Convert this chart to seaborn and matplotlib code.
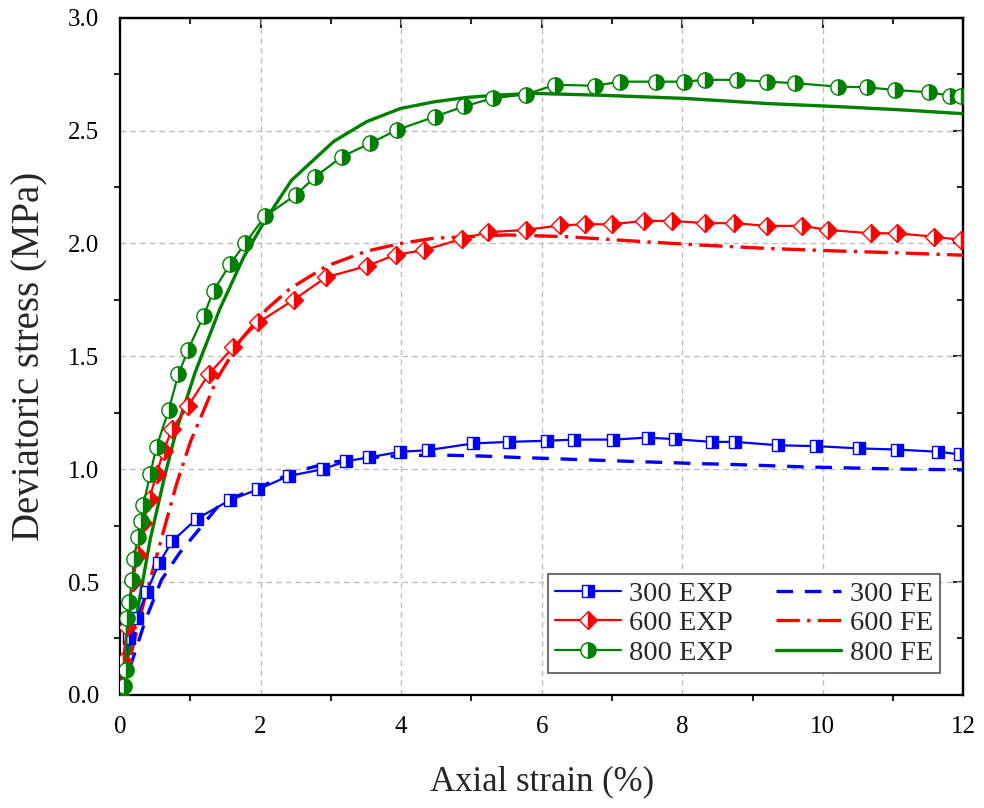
import numpy as np
import pandas as pd
import matplotlib
matplotlib.use("Agg")
import matplotlib.pyplot as plt
from matplotlib.ticker import MultipleLocator
import seaborn as sns

# ---- experimental curves (axial strain %, deviatoric stress MPa) ----
strain_300_exp = [0.0, 0.05, 0.13, 0.24, 0.38, 0.56, 0.74, 1.09, 1.57, 1.97, 2.40, 2.89,
                  3.21, 3.54, 3.98, 4.38, 5.02, 5.53, 6.08, 6.46, 7.02, 7.51, 7.89, 8.42,
                  8.75, 9.36, 9.91, 10.52, 11.06, 11.64, 11.95]
stress_300_exp = [0.0, 0.12, 0.25, 0.34, 0.456, 0.586, 0.68, 0.78, 0.864, 0.911, 0.97, 1.0,
                  1.035, 1.052, 1.077, 1.084, 1.114, 1.121, 1.126, 1.131, 1.131, 1.14, 1.133, 1.121,
                  1.121, 1.106, 1.102, 1.092, 1.087, 1.077, 1.066]

strain_600_exp = [0.0, 0.04, 0.10, 0.18, 0.25, 0.33, 0.42, 0.52, 0.62, 0.74, 0.97, 1.26,
                  1.61, 1.97, 2.47, 2.93, 3.51, 3.92, 4.32, 4.86, 5.24, 5.77, 6.26, 6.62,
                  7.00, 7.45, 7.85, 8.33, 8.73, 9.21, 9.70, 10.08, 10.68, 11.06, 11.58, 11.96]
stress_600_exp = [0.0, 0.15, 0.30, 0.50, 0.62, 0.76, 0.87, 0.98, 1.08, 1.18, 1.28, 1.42,
                  1.54, 1.65, 1.75, 1.85, 1.90, 1.95, 1.97, 2.02, 2.05, 2.06, 2.08, 2.085,
                  2.085, 2.10, 2.10, 2.09, 2.09, 2.078, 2.078, 2.06, 2.045, 2.045, 2.03, 2.016]

strain_800_exp = [0.0, 0.05, 0.08, 0.10, 0.13, 0.17, 0.20, 0.25, 0.30, 0.33, 0.43, 0.52,
                  0.69, 0.83, 0.97, 1.19, 1.33, 1.57, 1.78, 2.06, 2.50, 2.78, 3.16, 3.56,
                  3.94, 4.48, 4.89, 5.31, 5.77, 6.19, 6.76, 7.12, 7.62, 8.02, 8.33, 8.78,
                  9.21, 9.61, 10.22, 10.63, 11.03, 11.51, 11.81, 11.96]
stress_800_exp = [0.0, 0.04, 0.11, 0.34, 0.41, 0.51, 0.60, 0.70, 0.77, 0.84, 0.98, 1.10,
                  1.26, 1.42, 1.53, 1.68, 1.79, 1.91, 2.00, 2.12, 2.215, 2.296, 2.385, 2.444,
                  2.503, 2.562, 2.607, 2.644, 2.66, 2.703, 2.699, 2.717, 2.717, 2.717, 2.725, 2.725,
                  2.717, 2.71, 2.695, 2.692, 2.68, 2.67, 2.655, 2.655]

# ---- finite element predictions ----
strain_300_fe = [0.0, 0.14, 0.36, 0.59, 0.85, 1.09, 1.38, 1.66, 2.13, 2.50, 3.00, 3.50,
                 4.00, 4.62, 5.17, 5.65, 6.14, 6.75, 7.23, 7.72, 8.20, 8.69, 9.18, 9.73,
                 10.20, 10.70, 11.20, 12.00]
stress_300_fe = [0.0, 0.12, 0.33, 0.51, 0.63, 0.72, 0.83, 0.88, 0.94, 0.99, 1.03, 1.05,
                 1.06, 1.062, 1.058, 1.052, 1.047, 1.04, 1.035, 1.03, 1.025, 1.021, 1.016, 1.01,
                 1.007, 1.003, 1.0, 0.997]

strain_600_fe = [0.0, 0.14, 0.33, 0.57, 0.80, 1.00, 1.38, 1.71, 2.09, 2.42, 2.94, 3.51,
                 3.99, 4.46, 4.93, 5.50, 6.36, 7.45, 8.26, 9.21, 10.17, 11.12, 12.00]
stress_600_fe = [0.0, 0.16, 0.40, 0.67, 0.93, 1.12, 1.40, 1.57, 1.71, 1.80, 1.90, 1.966,
                 2.0, 2.023, 2.03, 2.038, 2.03, 2.008, 1.993, 1.978, 1.967, 1.958, 1.948]

strain_800_fe = [0.0, 0.10, 0.24, 0.43, 0.64, 0.80, 1.07, 1.42, 1.76, 2.06, 2.44, 3.04,
                 3.51, 3.99, 4.46, 4.93, 5.41, 5.88, 6.83, 8.02, 9.21, 10.17, 11.12, 12.00]
stress_800_fe = [0.0, 0.15, 0.36, 0.69, 0.975, 1.17, 1.43, 1.71, 1.94, 2.10, 2.28, 2.452,
                 2.54, 2.598, 2.627, 2.647, 2.658, 2.665, 2.657, 2.643, 2.62, 2.607, 2.592, 2.575]

x_ticks = [0, 2, 4, 6, 8, 10, 12]
y_ticks = [0.0, 0.5, 1.0, 1.5, 2.0, 2.5, 3.0]

sns.set_theme(style="white")
plt.rcParams["font.family"] = ["Liberation Serif", "DejaVu Serif"]

fig = plt.figure(figsize=(9.84, 8.08), dpi=100)
ax = fig.add_axes([0.122, 0.14, 0.857, 0.838])

blue, red, green = "#0000ff", "#ff0000", "#008000"

exp_series = [
    ("300 EXP", strain_300_exp, stress_300_exp, blue, "s", 9),
    ("600 EXP", strain_600_exp, stress_600_exp, red, "D", 9),
    ("800 EXP", strain_800_exp, stress_800_exp, green, "o", 11),
]
fe_series = [
    ("300 FE", strain_300_fe, stress_300_fe, blue, (0, (5, 3.5))),
    ("600 FE", strain_600_fe, stress_600_fe, red, (0, (7, 2.2, 1, 2.2))),
    ("800 FE", strain_800_fe, stress_800_fe, green, "-"),
]

for label, xs, ys, c, ls in fe_series:
    df = pd.DataFrame({"strain": xs, "stress": ys})
    sns.lineplot(data=df, x="strain", y="stress", ax=ax, color=c, linestyle=ls,
                 linewidth=2.4, sort=False, estimator=None, label=label, zorder=3)

for label, xs, ys, c, mk, ms in exp_series:
    df = pd.DataFrame({"strain": xs, "stress": ys})
    sns.lineplot(data=df, x="strain", y="stress", ax=ax, color=c, linewidth=1.6,
                 marker=mk, markersize=ms, fillstyle="right", markerfacecolor=c,
                 markerfacecoloralt="white", markeredgecolor=c, markeredgewidth=1.0,
                 sort=False, estimator=None, label=label, zorder=4)

ax.set_xlim(0, 12)
ax.set_ylim(0, 3.0)
ax.set_xticks(x_ticks)
ax.set_yticks(y_ticks)
ax.set_yticklabels([f"{v:.1f}" for v in y_ticks])
ax.xaxis.set_minor_locator(MultipleLocator(1))
ax.yaxis.set_minor_locator(MultipleLocator(0.25))

ax.grid(True, which="major", linestyle=(0, (4, 3)), color="#bdbdbd", linewidth=1.0)
ax.set_axisbelow(True)

for sp in ax.spines.values():
    sp.set_visible(True)
    sp.set_color("black")
    sp.set_linewidth(1.6)

ax.tick_params(axis="both", which="major", direction="out", length=7, width=1.5,
               labelsize=18, colors="black", pad=8, top=False, right=False)
ax.tick_params(axis="both", which="minor", direction="out", length=4, width=1.5,
               top=False, right=False, bottom=True, left=True)

# mirrored axes on top and right with inward ticks
top = ax.secondary_xaxis("top")
top.set_xticks(x_ticks)
top.xaxis.set_minor_locator(MultipleLocator(1))
top.tick_params(axis="x", which="major", direction="in", length=7, width=1.5,
                labeltop=False, labelbottom=False)
top.tick_params(axis="x", which="minor", direction="in", length=4, width=1.5)
top.spines["top"].set_linewidth(1.6)

right = ax.secondary_yaxis("right")
right.set_yticks(y_ticks)
right.yaxis.set_minor_locator(MultipleLocator(0.25))
right.tick_params(axis="y", which="major", direction="in", length=7, width=1.5,
                  labelright=False, labelleft=False)
right.tick_params(axis="y", which="minor", direction="in", length=4, width=1.5)
right.spines["right"].set_linewidth(1.6)

ax.set_xlabel("Axial strain (%)", fontsize=25, labelpad=20)
ax.set_ylabel("Deviatoric stress (MPa)", fontsize=28, labelpad=14)

handles, labels = ax.get_legend_handles_labels()
order = ["300 EXP", "600 EXP", "800 EXP", "300 FE", "600 FE", "800 FE"]
hmap = dict(zip(labels, handles))
leg = ax.legend([hmap[k] for k in order], order, ncol=2, loc="lower right",
                bbox_to_anchor=(0.9727, 0.0325), borderaxespad=0, fontsize=20.5,
                frameon=True, fancybox=False, edgecolor="#555555", framealpha=1,
                handlelength=2.3, columnspacing=1.5, labelspacing=0.12,
                handletextpad=0.3, borderpad=0.25)
leg.get_frame().set_linewidth(1.2)

fig.savefig("out.png", dpi=100)
